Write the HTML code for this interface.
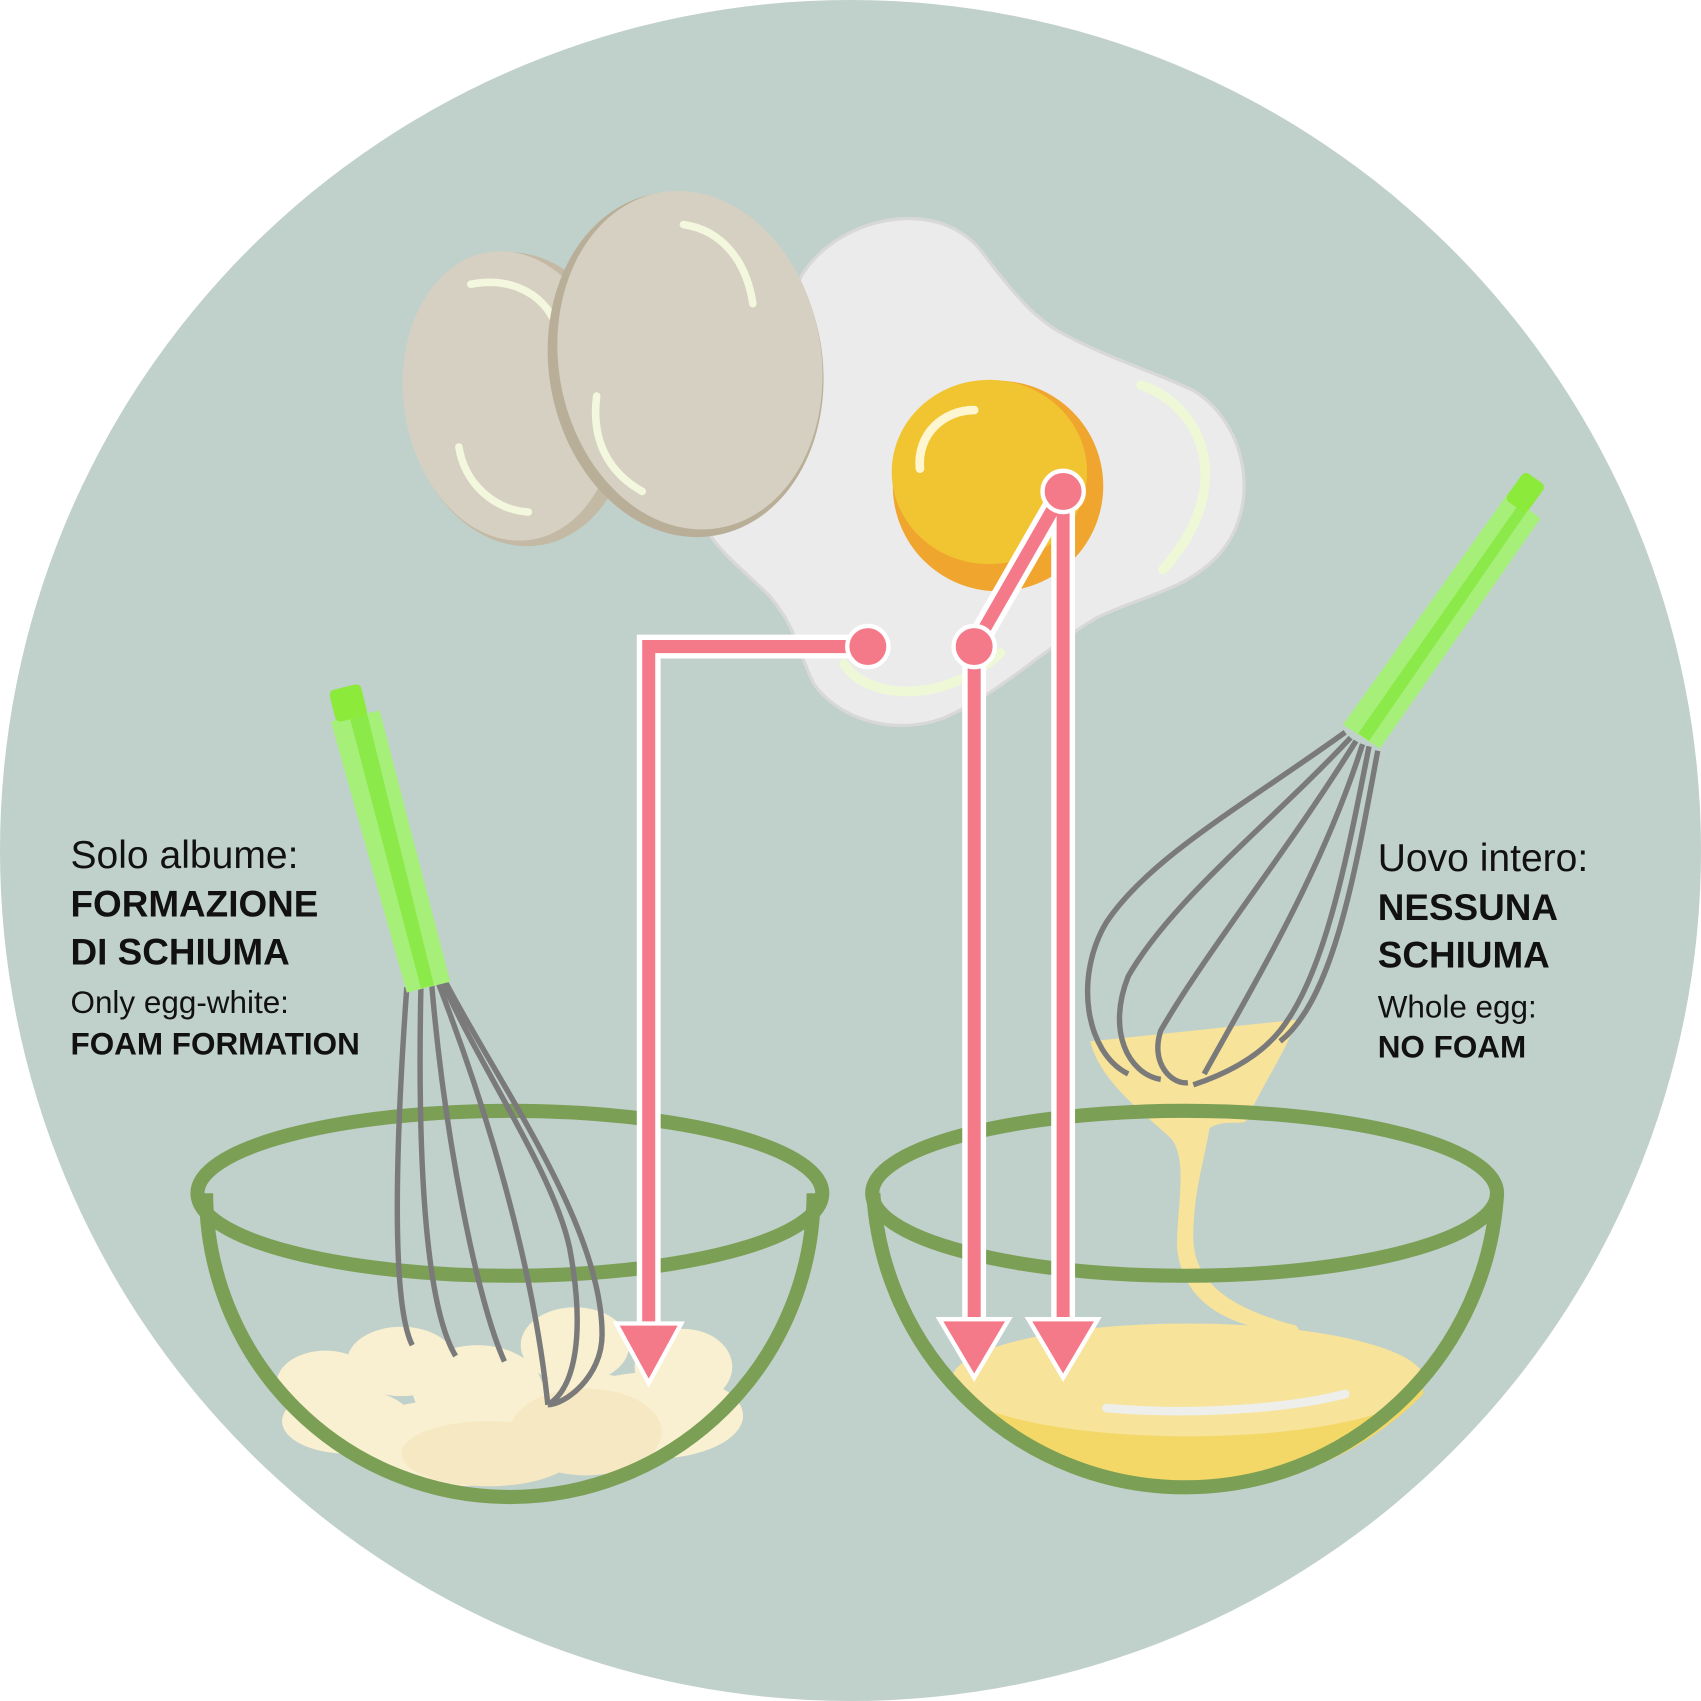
<!DOCTYPE html>
<html><head><meta charset="utf-8"><style>
html,body{margin:0;padding:0;background:#fff;}
svg{display:block;}
text{font-family:"Liberation Sans",sans-serif;fill:#111;}
</style></head><body>
<svg width="1701" height="1701" viewBox="0 0 1568 1568" xmlns="http://www.w3.org/2000/svg">
<circle cx="784" cy="784" r="784" fill="#c0d0cb"/>

<path d="M735,262 C760,205 860,175 905,232 C930,265 950,290 975,305 C1020,330 1070,345 1100,360 C1150,390 1165,470 1120,515 C1090,545 1050,550 1010,570 C960,600 920,640 870,662 C820,680 770,660 750,630 C735,600 735,580 710,550 C680,520 650,500 645,470 Z" fill="#ebebeb" stroke="#d8d8d8" stroke-width="3"/>
<path d="M1052,355 C1110,375 1140,450 1072,525" fill="none" stroke="#eff8d6" stroke-width="9" stroke-linecap="round"/>
<path d="M778,612 C800,645 870,650 922,602" fill="none" stroke="#eff8d6" stroke-width="9" stroke-linecap="round"/>
<circle cx="920" cy="448" r="97" fill="#f0a62e"/>
<ellipse cx="912" cy="435" rx="90" ry="85" fill="#f0c531"/>
<path d="M848,432 C845,400 870,378 898,378" fill="none" stroke="#fdf6d0" stroke-width="8" stroke-linecap="round"/>

<ellipse cx="478" cy="368" rx="104" ry="136" fill="#c4b9a4" transform="rotate(-8 478 368)"/>
<ellipse cx="470" cy="365" rx="98" ry="134" fill="#d6d0c2" transform="rotate(-8 470 365)"/>
<path d="M434,262 C470,255 500,270 512,298" fill="none" stroke="#f3f7dd" stroke-width="7" stroke-linecap="round"/>
<path d="M423,412 C428,445 455,470 487,472" fill="none" stroke="#f3f7dd" stroke-width="7" stroke-linecap="round"/>
<ellipse cx="632" cy="336" rx="126" ry="160" fill="#b9ae98" transform="rotate(-10 632 336)"/>
<ellipse cx="636" cy="332" rx="121" ry="157" fill="#d6d0c2" transform="rotate(-10 636 332)"/>
<path d="M630,207 C665,212 688,240 694,280" fill="none" stroke="#f3f7dd" stroke-width="7" stroke-linecap="round"/>
<path d="M550,365 C545,405 560,435 592,453" fill="none" stroke="#f3f7dd" stroke-width="7" stroke-linecap="round"/>

<g fill="#f8f0d0">
<ellipse cx="300" cy="1275" rx="45" ry="30"/><ellipse cx="370" cy="1255" rx="50" ry="32"/>
<ellipse cx="440" cy="1280" rx="60" ry="40"/><ellipse cx="530" cy="1240" rx="50" ry="35"/>
<ellipse cx="630" cy="1260" rx="45" ry="35"/><ellipse cx="540" cy="1310" rx="70" ry="45"/>
<ellipse cx="420" cy="1330" rx="100" ry="40"/><ellipse cx="600" cy="1305" rx="85" ry="40"/>
<ellipse cx="320" cy="1310" rx="60" ry="30"/>
</g>
<g fill="#f6e8c2">
<ellipse cx="540" cy="1320" rx="70" ry="40"/><ellipse cx="450" cy="1340" rx="80" ry="30"/>
</g>
<path d="M190,1100 A280,280 0 0 0 750,1100" fill="none" stroke="#7b9f55" stroke-width="13"/>
<ellipse cx="470" cy="1100" rx="288" ry="76" fill="none" stroke="#7b9f55" stroke-width="13"/>

<g fill="none" stroke="#7a7a7a" stroke-width="5">
<path d="M375,910 C365,1050 360,1200 380,1240"/>
<path d="M388,910 C385,1050 390,1200 420,1250"/>
<path d="M398,908 C410,1050 440,1200 465,1255"/>
<path d="M404,906 C440,1000 490,1150 505,1295"/>
<path d="M410,904 C460,1000 555,1130 555,1230 C555,1270 520,1295 505,1295"/>
<path d="M408,905 C440,980 510,1080 525,1150 C540,1230 530,1280 505,1295"/>
</g>
<path d="M305,665 L350,655 L415,905 L375,915 Z" fill="#a6f07a"/>
<path d="M322,660 L338,656 L400,908 L388,911 Z" fill="#8bea4a"/>
<rect x="306" y="633" width="30" height="30" rx="5" fill="#8bea3a" transform="rotate(-14 321 648)"/>

<path d="M878,1275 C900,1240 980,1228 1100,1228 C1240,1228 1310,1250 1312,1285 A295,290 0 0 1 878,1275 Z" fill="#f3d868"/>
<ellipse cx="1095" cy="1272" rx="218" ry="52" fill="#f7e39a"/>
<path d="M1020,1298 C1100,1305 1190,1298 1240,1285" fill="none" stroke="#eeeeea" stroke-width="8" stroke-linecap="round"/>
<path d="M1005,960 C1015,1000 1060,1030 1080,1050 C1095,1070 1085,1110 1085,1150 C1090,1200 1130,1225 1200,1230 L1195,1222 C1130,1205 1100,1180 1100,1140 C1100,1100 1110,1070 1115,1040 C1130,1030 1150,1040 1150,1030 C1170,990 1190,960 1195,940 Z" fill="#f7e39a"/>
<path d="M805,1100 A288,288 0 0 0 1380,1100" fill="none" stroke="#7b9f55" stroke-width="13"/>
<ellipse cx="1092" cy="1100" rx="288" ry="76" fill="none" stroke="#7b9f55" stroke-width="13"/>

<g fill="none" stroke="#7a7a7a" stroke-width="5">
<path d="M1240,675 C1150,740 1060,790 1020,850 C990,900 1000,970 1040,990"/>
<path d="M1245,680 C1170,760 1080,830 1040,900 C1020,950 1040,990 1070,995"/>
<path d="M1250,683 C1190,780 1110,880 1070,950 C1060,980 1080,1000 1095,998"/>
<path d="M1256,686 C1220,800 1160,900 1110,990"/>
<path d="M1262,688 C1240,800 1220,900 1180,950 C1160,975 1130,990 1100,1000"/>
<path d="M1270,692 C1250,800 1230,920 1180,960"/>
</g>
<path d="M1238,668 L1390,455 L1420,478 L1272,690 Z" fill="#a6f07a"/>
<path d="M1252,676 L1402,462 L1410,468 L1262,683 Z" fill="#8bea4a"/>
<rect x="1390" y="442" width="32" height="24" rx="5" fill="#8bea3a" transform="rotate(-54 1406 454)"/>

<g stroke="#fff" stroke-width="22" fill="none" stroke-linejoin="miter">
<path d="M800,596 L598,596 L598,1230"/>
<path d="M898,596 L898,1230"/>
<path d="M898,596 L980,453" stroke-linecap="round"/>
<path d="M980,453 L980,1230"/>
</g>
<g stroke="#f47a8a" stroke-width="12" fill="none" stroke-linejoin="miter">
<path d="M800,596 L598,596 L598,1230"/>
<path d="M898,596 L898,1230"/>
<path d="M898,596 L980,453"/>
<path d="M980,453 L980,1230"/>
</g>
<g fill="#f47a8a" stroke="#fff" stroke-width="4">
<polygon points="568,1220 628,1220 598,1275"/>
<polygon points="866,1216 930,1216 898,1270"/>
<polygon points="948,1216 1012,1216 980,1270"/>
<circle cx="800" cy="596" r="19"/>
<circle cx="898" cy="596" r="19"/>
<circle cx="980" cy="453" r="19"/>
</g>

<text x="65" y="800" font-size="36">Solo albume:</text>
<text x="65" y="845" font-size="34" font-weight="bold">FORMAZIONE</text>
<text x="65" y="889" font-size="34" font-weight="bold">DI SCHIUMA</text>
<text x="65" y="934" font-size="29">Only egg-white:</text>
<text x="65" y="972" font-size="29" font-weight="bold">FOAM FORMATION</text>
<text x="1270" y="803" font-size="36">Uovo intero:</text>
<text x="1270" y="848" font-size="34" font-weight="bold">NESSUNA</text>
<text x="1270" y="892" font-size="34" font-weight="bold">SCHIUMA</text>
<text x="1270" y="938" font-size="29">Whole egg:</text>
<text x="1270" y="975" font-size="29" font-weight="bold">NO FOAM</text>
</svg>
</body></html>
